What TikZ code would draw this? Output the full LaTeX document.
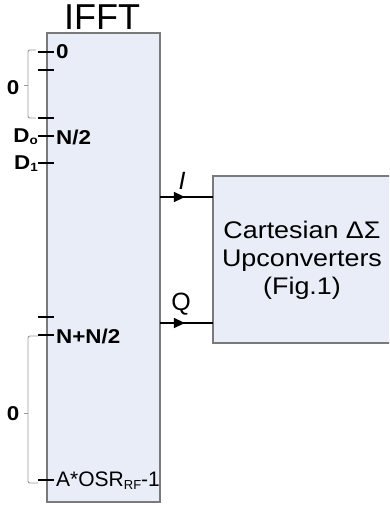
\documentclass[tikz,border=0pt]{standalone}
\usepackage{fontspec}
\setmainfont{Liberation Sans}
\newfontfamily\widefont[FakeStretch=1.12]{Liberation Sans}
\usetikzlibrary{arrows.meta,decorations.markings}
\definecolor{boxfill}{HTML}{E8EDF7}
\definecolor{boxline}{HTML}{7A7A7A}
\definecolor{bracegray}{HTML}{9A9A9A}
\tikzset{
  blockbox/.style={draw=boxline,line width=1.1pt,fill=boxfill},
  tickline/.style={line width=1.5pt,black},
  bracepath/.style={draw=bracegray,line width=0.9pt,rounded corners=2pt},
  lbl/.style={inner sep=0pt,font=\widefont\bfseries\fontsize{20}{22}\selectfont},
  lblreg/.style={inner sep=0pt,font=\fontsize{21}{23}\selectfont},
  sig/.style={line width=1.3pt,postaction={decorate},
    decoration={markings,mark=at position 0.47 with {\arrow{Triangle[length=11pt,width=10pt]}}}},
  sigtext/.style={inner sep=0pt,font=\fontsize{25}{27}\selectfont},
}
\begin{document}
\begin{tikzpicture}[x=1pt,y=-1pt]
\useasboundingbox (0,0) rectangle (389,506);
% IFFT block
\path[blockbox] (47,33) rectangle (160,502);
\node[inner sep=0pt,minimum width=113pt,minimum height=469pt] (ifft) at (103.5,267.5) {};
\node[inner sep=0pt,font=\fontsize{36}{38}\selectfont] (ifftlbl) at (102,17) {IFFT};
% Cartesian block (runs past the right edge)
\begin{scope}
\clip (0,0) rectangle (389,506);
\fill[boxfill] (213,176) rectangle (395,343);
\draw[boxline,line width=1.1pt] (395,176) -- (213,176) -- (213,343) -- (395,343);
\end{scope}
\coordinate (cartI) at (213,197);
\coordinate (cartQ) at (213,323);
\node[inner sep=0pt,align=center,font=\widefont\fontsize{24}{28}\selectfont] (cart) at (302,260)
  {Cartesian ΔΣ\\Upconverters\\(Fig.1)};
% ticks
\foreach \n/\y in {t0/52,t1/70,t2/118,tn/136,td/163,tu/317,tnn/335,ta/480}{
  \coordinate (\n w) at (38,\y);
  \coordinate (\n e) at (54,\y);
  \draw[tickline] (\n w) -- (\n e);
}
\node[lbl,anchor=west] (l0) at (56,52) {0};
\node[lbl,anchor=west] (ln2) at (56,137) {N/2};
\node[lbl,anchor=west] (lnn) at (56,336) {N+N/2};
\node[lblreg,anchor=west] (la) at (56,481) {A*OSR{\fontsize{13}{13}\selectfont\raisebox{-3pt}{RF}}-1};
\node[lbl,anchor=east] (ld0) at (38,137) {D{\fontsize{12}{12}\selectfont\raisebox{-2pt}{o}}};
\node[lbl,anchor=east] (ld1) at (38,164) {D{\fontsize{12}{12}\selectfont\raisebox{-2pt}{1}}};
% braces
\coordinate (b1t) at (36,50);
\coordinate (b1b) at (36,118);
\coordinate (b1m) at (24,85);
\draw[bracepath] (b1t) -- (28,50) -- (28,118) -- (b1b);
\draw[bracegray,line width=0.9pt] (28,85) -- (b1m);
\node[lbl] (bz1) at (13,88) {0};
\coordinate (b2t) at (38,336);
\coordinate (b2b) at (38,483);
\coordinate (b2m) at (24,413);
\draw[bracepath] (b2t) -- (28,336) -- (28,483) -- (b2b);
\draw[bracegray,line width=0.9pt] (28,413) -- (b2m);
\node[lbl] (bz2) at (13,414) {0};
% signals
\coordinate (ifI) at (160,197);
\coordinate (ifQ) at (160,323);
\draw[sig] (ifI) -- (cartI);
\draw[sig] (ifQ) -- (cartQ);
\node[sigtext] (ilbl) at (182,181) {\itshape I};
\node[sigtext] (qlbl) at (181,304) {Q};
\end{tikzpicture}
\end{document}
